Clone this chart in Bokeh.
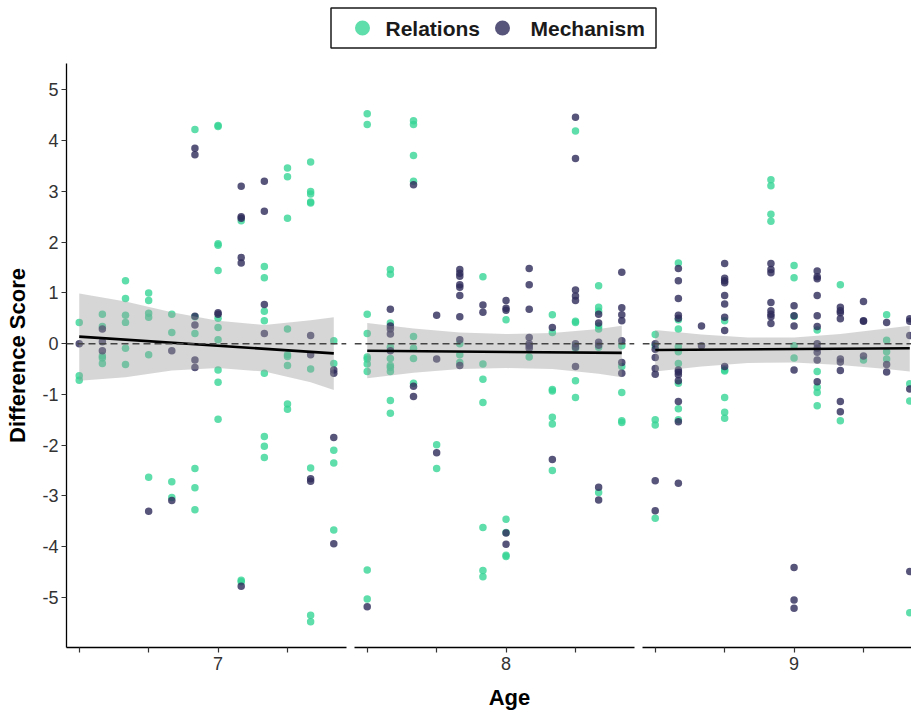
import numpy as np
from bokeh.plotting import figure
from bokeh.models import Range1d, FixedTicker, Span
from bokeh.layouts import column, row
from bokeh.embed import file_html
from bokeh.resources import INLINE
from bokeh.core.properties import value

# ---------------------------------------------------------------- data
ages = [7, 8, 9]                      # facet panels (age in years)
y_ticks = [-5, -4, -3, -2, -1, 0, 1, 2, 3, 4, 5]

# age of each child in months, with its difference score
relations_months = (
    [78] * 3 + [79] * 5 + [80] * 6 + [81] * 6 + [82] * 4 + [83] * 6 +
    [84] * 11 + [85] * 3 + [86] * 8 + [87] * 9 + [88] * 9 + [89] * 5 +
    [90] * 10 + [91] * 10 + [92] * 8 + [93] * 2 + [94] * 3 + [95] * 7 +
    [96] * 5 + [97] * 1 + [98] * 7 + [99] * 7 + [100] * 7 + [101] * 5 +
    [102] * 5 + [103] * 9 + [105] * 6 + [107] * 4 + [108] * 5 + [109] * 5 +
    [110] * 2 + [111] * 1 + [112] * 4 + [113] * 3
)
relations_scores = [
    0.42, -0.63, -0.72,
    0.58, 0.34, -0.24, -0.28, -0.39,
    1.24, 0.89, 0.56, 0.42, -0.09, -0.41,
    1.00, 0.85, 0.60, 0.52, -0.22, -2.63,
    0.58, 0.22, -2.72, -3.03,
    4.22, 0.53, 0.20, -2.46, -2.84, -3.27,
    4.30, 4.28, 1.97, 1.94, 1.44, 0.50, 0.32, 0.08, -0.52, -0.76, -1.49,
    2.42, -4.66, -4.69,
    1.52, 1.30, 0.64, 0.45, -0.58, -1.83, -2.02, -2.24,
    3.46, 3.29, 2.47, 0.29, -0.22, -0.25, -0.43, -1.19, -1.29,
    3.58, 3.00, 2.95, 2.79, 2.77, -0.50, -2.45, -5.35, -5.48,
    0.06, -0.39, -2.10, -2.35, -3.67,
    4.53, 4.32, 0.58, 0.20, -0.26, -0.30, -0.40, -0.55, -4.46, -5.03,
    1.46, 1.37, 0.41, -0.07, -0.29, -0.43, -0.47, -0.55, -1.12, -1.37,
    4.39, 4.32, 3.71, 3.20, 0.14, -0.09, -0.29, -0.78,
    -1.99, -2.46,
    0.00, -0.22, -0.37,
    1.32, -0.40, -0.70, -1.16, -3.62, -4.47, -4.59,
    0.47, -3.46, -3.72, -4.17, -4.19,
    -0.26,
    0.57, 0.22, -0.90, -0.93, -1.45, -1.58, -2.50,
    4.19, 0.44, 0.42, -0.04, -0.09, -0.73, -1.06,
    1.14, 0.72, 0.64, 0.35, 0.29, -0.07, -2.93,
    -0.04, -0.45, -0.96, -1.52, -1.55,
    0.18, -0.04, -1.50, -1.60, -3.44,
    1.59, 0.47, 0.29, -0.06, -0.16, -0.39, -0.78, -1.28, -1.50,
    0.45, -0.52, -0.54, -1.06, -1.35, -1.47,
    3.23, 3.11, 2.55, 2.41,
    1.54, 1.30, 0.54, -0.04, -0.28,
    0.27, -0.55, -0.86, -0.96, -1.22,
    1.16, -1.52,
    -0.32,
    0.57, 0.07, -0.16, -0.30,
    -0.79, -1.13, -5.30,
]

mechanism_months = (
    [78] * 1 + [79] * 3 + [81] * 1 + [82] * 2 + [83] * 6 + [84] * 2 +
    [85] * 6 + [86] * 4 + [88] * 4 + [89] * 4 +
    [90] * 1 + [91] * 5 + [92] * 3 + [93] * 3 + [94] * 9 + [95] * 2 +
    [96] * 5 + [97] * 7 + [98] * 2 + [99] * 8 + [100] * 6 + [101] * 7 +
    [102] * 7 + [103] * 12 + [104] * 2 + [105] * 9 + [107] * 8 + [108] * 7 +
    [109] * 11 + [110] * 9 + [111] * 4 + [112] * 3 + [113] * 5
)
mechanism_scores = [
    0.00,
    0.29, 0.04, -0.14,
    -3.30,
    -0.14, -3.09,
    3.85, 3.72, 0.54, 0.37, -0.32, -0.47,
    0.61, 0.58,
    3.10, 2.50, 2.47, 1.70, 1.59, -4.78,
    3.20, 2.61, 0.77, 0.20,
    0.16, -0.22, -2.66, -2.71,
    -0.52, -0.58, -1.85, -3.94,
    -5.18,
    0.68, 0.35, 0.29, 0.19, -0.14,
    3.13, -0.84, -1.04,
    0.56, -0.30, -2.15,
    1.46, 1.39, 1.33, 1.16, 1.11, 0.95, 0.53, 0.08, -0.43,
    0.76, 0.62,
    0.85, 0.70, 0.66, -3.73, -3.95,
    1.48, 1.16, 0.68, 0.12, 0.00, -0.04, -0.09,
    0.32, -2.28,
    4.46, 3.65, 1.06, 0.94, 0.85, 0.00, -0.07, -0.45,
    0.58, 0.41, 0.03, -0.03, -2.83, -3.08,
    1.41, 0.71, 0.57, 0.45, 0.06, -0.37, -0.58,
    0.00, -0.11, -0.27, -0.49, -0.60, -2.70, -3.29,
    1.48, 1.24, 0.89, 0.56, 0.50, -0.52, -0.56, -0.61, -0.73, -1.14, -1.54, -2.75,
    0.35, -0.04,
    1.58, 1.29, 1.24, 1.20, 0.95, 0.78, 0.52, 0.26, -0.45,
    1.58, 1.46, 1.40, 0.81, 0.65, 0.58, 0.53, 0.40,
    0.75, 0.55, 0.35, -0.52, -4.41, -5.05, -5.21,
    1.43, 1.32, 1.28, 0.95, 0.55, 0.34, 0.00, -0.09, -0.17, -0.32, -0.75,
    0.72, 0.65, 0.61, 0.49, -0.30, -0.36, -0.53, -1.14, -1.34,
    0.83, 0.44, 0.45, -0.24,
    0.42, -0.41, -0.56,
    0.49, 0.44, 0.16, -0.89, -4.49,
]

# linear trend per panel: value at first and last month
fit_start = [0.14, -0.14, -0.125]
fit_end = [-0.19, -0.18, -0.09]

# 95% confidence band of the trend, per panel
band_months = [
    [78, 80, 82, 84, 86, 88, 89],
    [90, 92, 94, 96, 98, 100, 101],
    [102, 104, 106, 108, 110, 112, 113],
]
band_upper = [
    [0.99, 0.83, 0.62, 0.45, 0.37, 0.46, 0.52],
    [0.41, 0.30, 0.22, 0.19, 0.21, 0.29, 0.355],
    [0.27, 0.18, 0.12, 0.12, 0.19, 0.30, 0.355],
]
band_lower = [
    [-0.73, -0.66, -0.53, -0.48, -0.55, -0.76, -0.91],
    [-0.68, -0.57, -0.50, -0.48, -0.50, -0.59, -0.66],
    [-0.55, -0.45, -0.38, -0.37, -0.42, -0.50, -0.55],
]

# ---------------------------------------------------------------- style
RELATIONS = "#37D596"
MECHANISM = "#2E2A5A"
POINT_ALPHA = 0.8
FONT = "Liberation Sans"
TEXT_DARK = "#1a1a1a"

FRAME_W = 280          # width of one facet panel
GAP = 8                # space between facet panels
FRAME_TOP = 3
FRAME_H = 584
BELOW = 33
LEFT = 66
LAST_FRAME_W = 911 - LEFT - 2 * (FRAME_W + GAP)   # last panel runs to page edge

rel_m = np.array(relations_months)
rel_s = np.array(relations_scores)
mec_m = np.array(mechanism_months)
mec_s = np.array(mechanism_scores)

y_range = Range1d(-5.985, 5.52)

panels = []
for i, age in enumerate(ages):
    first_m = age * 12 - 6
    last_m = first_m + 11
    first, last = first_m / 12, last_m / 12
    pad = 0.05 * (last - first)
    x_start, x_end = first - pad, last + pad
    frame_w = FRAME_W
    if i == len(ages) - 1:
        frame_w = LAST_FRAME_W
        x_end = x_start + (x_end - x_start) * frame_w / FRAME_W

    left_border = LEFT if i == 0 else GAP // 2
    right_border = 0 if i == len(ages) - 1 else GAP // 2

    p = figure(
        width=left_border + frame_w + right_border,
        height=FRAME_TOP + FRAME_H + BELOW,
        x_range=Range1d(x_start, x_end),
        y_range=y_range,
        y_axis_location="left" if i == 0 else None,
        output_backend="svg",
        toolbar_location=None,
        min_border_left=left_border,
        min_border_right=right_border,
        min_border_top=FRAME_TOP,
        min_border_bottom=BELOW,
    )
    p.outline_line_color = None
    p.background_fill_color = "white"
    p.border_fill_color = "white"
    p.xgrid.visible = False
    p.ygrid.visible = False

    # points
    sel = (rel_m >= first_m) & (rel_m <= last_m)
    p.scatter(rel_m[sel] / 12, rel_s[sel], size=7.5, fill_color=RELATIONS,
              fill_alpha=POINT_ALPHA, line_color=None)
    sel = (mec_m >= first_m) & (mec_m <= last_m)
    p.scatter(mec_m[sel] / 12, mec_s[sel], size=7.5, fill_color=MECHANISM,
              fill_alpha=POINT_ALPHA, line_color=None)

    # trend with confidence band
    bx = np.array(band_months[i]) / 12
    p.varea(x=bx, y1=band_lower[i], y2=band_upper[i],
            fill_color="#999999", fill_alpha=0.4)
    p.add_layout(Span(location=0, dimension="width", line_color="#444444",
                      line_width=1.6, line_dash="7 4"))
    p.line([first, last], [fit_start[i], fit_end[i]], line_color="black",
           line_width=2.6)

    # x axis: quarter-year ticks, only whole years labelled
    xt = [age - 0.5, age - 0.25, age, age + 0.25]
    p.xaxis.ticker = FixedTicker(ticks=xt)
    p.xaxis.major_label_overrides = {t: ("" if t != age else str(age)) for t in xt}
    for ax in p.axis:
        ax.axis_line_color = "black"
        ax.axis_line_width = 1.3
        ax.major_tick_line_color = "#333333"
        ax.major_tick_line_width = 1.2
        ax.major_tick_out = 5
        ax.major_tick_in = 0
        ax.minor_tick_out = 0
        ax.minor_tick_in = 0
        ax.major_label_text_font = FONT
        ax.major_label_text_font_size = "18px"
        ax.major_label_text_color = "#333333"
        ax.axis_label_text_font = FONT
        ax.axis_label_text_font_size = "22px"
        ax.axis_label_text_font_style = "bold"
        ax.axis_label_text_color = "black"
    p.xaxis.major_label_standoff = 4

    if i == 0:
        p.yaxis.ticker = FixedTicker(ticks=y_ticks)
        p.yaxis.major_label_overrides = {t: str(t) for t in y_ticks}
        p.yaxis.major_label_standoff = 3
        p.yaxis.axis_label = "Difference Score"
        p.yaxis.axis_label_standoff = 9
    panels.append(p)


def text_strip(height):
    f = figure(width=911, height=height, x_range=Range1d(0, 911),
               y_range=Range1d(height, 0), x_axis_location=None,
               y_axis_location=None, output_backend="svg",
               toolbar_location=None, min_border=0, min_border_left=0,
               min_border_right=0, min_border_top=0, min_border_bottom=0)
    f.outline_line_color = None
    f.xgrid.visible = False
    f.ygrid.visible = False
    return f


# legend strip
top = text_strip(60)
top.quad(left=[330.5], right=[655.5], top=[7.5], bottom=[47.5],
         fill_color=None, line_color=TEXT_DARK, line_width=1.5)
top.scatter(x=[362, 502], y=[27.5, 27.5], size=15,
            fill_color=[RELATIONS, MECHANISM], fill_alpha=POINT_ALPHA,
            line_color=None)
top.text(x=[385, 530], y=[27.5, 27.5], text=["Relations", "Mechanism"],
         text_font=value(FONT), text_font_style="bold",
         text_font_size="21px", text_baseline="middle", text_color=TEXT_DARK)

# shared x-axis title
bottom = text_strip(32)
bottom.text(x=[509], y=[17], text=["Age"], text_font=value(FONT),
            text_font_style="bold", text_font_size="22px",
            text_align="center", text_baseline="middle", text_color="black")

layout = column(top, row(*panels), bottom)
open("out.html", "w").write(file_html(layout, INLINE))
